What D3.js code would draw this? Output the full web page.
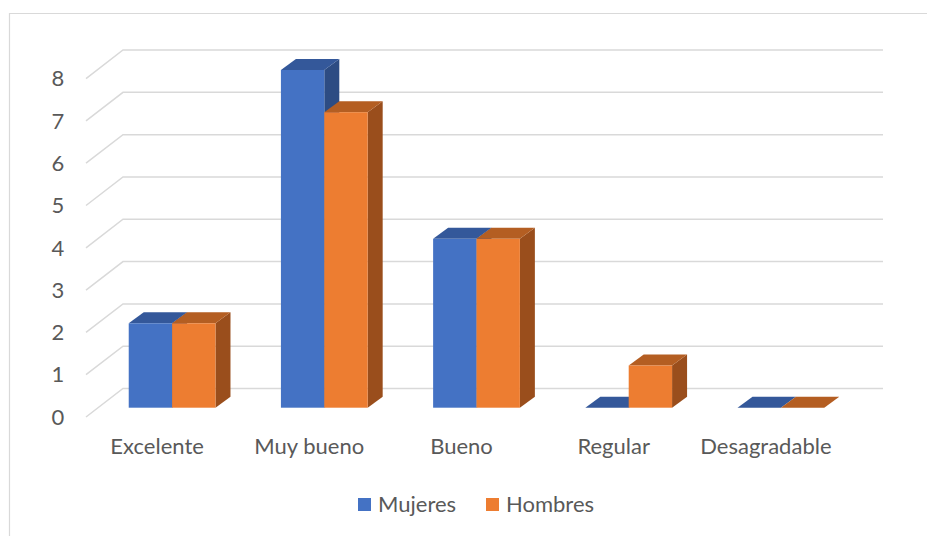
<!DOCTYPE html>
<html>
<head>
<meta charset="utf-8">
<script src="https://cdn.jsdelivr.net/npm/d3@7"></script>
<style>
  html, body { margin: 0; padding: 0; background: #fff; }
  svg { display: block; }
  text { font-family: Lato, "Noto Sans", sans-serif; fill: #595959; }
</style>
</head>
<body>
<svg id="chart" width="927" height="536"></svg>
<script>
// Valoración por categoría, mujeres y hombres
const categories = ["Excelente", "Muy bueno", "Bueno", "Regular", "Desagradable"];
const seriesNames = ["Mujeres", "Hombres"];
const mujeres = [2, 8, 4, 0, 0];
const hombres = [2, 7, 4, 1, 0];
const yTicks = [0, 1, 2, 3, 4, 5, 6, 7, 8];

const colors = {
  Mujeres: { front: "#4472C4", top: "#34589A", side: "#2D4C83" },
  Hombres: { front: "#ED7D31", top: "#B45E22", side: "#9A4E1C" }
};
const values = { Mujeres: mujeres, Hombres: hombres };
const fontSize = 22;

const svg = d3.select("#chart");

// chart frame
svg.append("path")
  .attr("d", "M9.5,536V13.5H927")
  .attr("fill", "none")
  .attr("stroke", "#d9d9d9")
  .attr("stroke-width", 1.2);

// wall/floor planes: back wall and front edge of the floor
const yBack = d3.scaleLinear().domain([0, 8]).range([388.5, 50]);
const yFront = d3.scaleLinear().domain([0, 8]).range([417, 78.6]);
const wallLeft = 123, wallRight = 883, frontLeft = 86;

// bars sit in a plane between front and back
const yBar = d3.scaleLinear().domain([0, 8]).range([407.7, 70]);
const depthX = 15, depthY = 11;

// category positions (front plane, for labels)
const xCat = d3.scaleBand().domain(categories).range([81, 842]);
// bar groups, shifted back into the depth
const xBar = d3.scaleBand().domain(categories).range([96, 857])
  .paddingInner(0.43).paddingOuter(0.215);
const xSeries = d3.scaleBand().domain(seriesNames).range([0, xBar.bandwidth()]);

// gridlines: diagonal on the side wall + horizontal line on the back wall
const grid = svg.append("g");
yTicks.forEach(t => {
  grid.append("path")
    .attr("d", `M${frontLeft},${yFront(t)}L${wallLeft},${yBack(t)}H${wallRight}`)
    .attr("fill", "none")
    .attr("stroke", "#d9d9d9")
    .attr("stroke-width", 1.5);
});

// y tick labels
svg.append("g").selectAll("text")
  .data(yTicks)
  .join("text")
  .attr("x", 58)
  .attr("y", d => yFront(d))
  .attr("dy", "0.35em")
  .attr("text-anchor", "middle")
  .attr("font-size", fontSize)
  .text(d => d);

// 3D columns
const bars = svg.append("g");
categories.forEach((c, ci) => {
  seriesNames.forEach(s => {
    const v = values[s][ci];
    const x0 = xBar(c) + xSeries(s);
    const x1 = x0 + xSeries.bandwidth();
    const yb = yBar(0), yt = yBar(v);
    const col = colors[s];
    const g = bars.append("g");
    if (v > 0) {
      // side face
      g.append("path")
        .attr("d", `M${x1},${yt}L${x1 + depthX},${yt - depthY}L${x1 + depthX},${yb - depthY}L${x1},${yb}Z`)
        .attr("fill", col.side);
    }
    // top face
    g.append("path")
      .attr("d", `M${x0},${yt}L${x0 + depthX},${yt - depthY}L${x1 + depthX},${yt - depthY}L${x1},${yt}Z`)
      .attr("fill", col.top);
    if (v > 0) {
      // front face
      g.append("rect")
        .attr("x", x0).attr("y", yt)
        .attr("width", x1 - x0).attr("height", yb - yt)
        .attr("fill", col.front);
    }
  });
});

// category labels
svg.append("g").selectAll("text")
  .data(categories)
  .join("text")
  .attr("x", d => xCat(d) + xCat.bandwidth() / 2)
  .attr("y", 454)
  .attr("text-anchor", "middle")
  .attr("font-size", fontSize)
  .text(d => d);

// legend
const legendX = [358, 486];
const legend = svg.append("g");
seriesNames.forEach((s, i) => {
  legend.append("rect")
    .attr("x", legendX[i]).attr("y", 498)
    .attr("width", 13).attr("height", 13)
    .attr("fill", colors[s].front);
  legend.append("text")
    .attr("x", legendX[i] + 20).attr("y", 511.7)
    .attr("font-size", fontSize)
    .text(s);
});
</script>
</body>
</html>
